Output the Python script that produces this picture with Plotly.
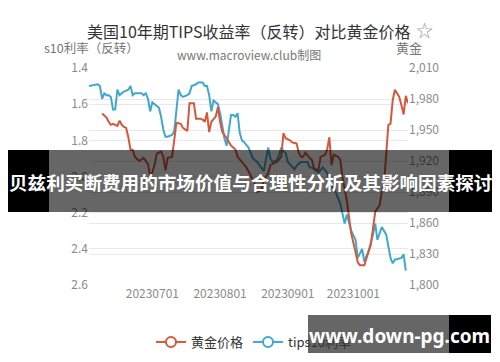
import plotly.graph_objects as go

# ---------------- data ----------------
tips_dates = [
    "2023-06-02", "2023-06-06", "2023-06-07", "2023-06-08", "2023-06-09", "2023-06-10",
    "2023-06-11", "2023-06-12", "2023-06-13", "2023-06-14", "2023-06-15", "2023-06-16",
    "2023-06-17", "2023-06-18", "2023-06-20", "2023-06-21", "2023-06-22", "2023-06-23",
    "2023-06-25", "2023-06-26", "2023-06-27", "2023-06-28", "2023-06-29", "2023-06-30",
    "2023-07-01", "2023-07-02", "2023-07-03", "2023-07-04", "2023-07-05", "2023-07-06",
    "2023-07-07", "2023-07-08", "2023-07-10", "2023-07-11", "2023-07-13", "2023-07-14",
    "2023-07-15", "2023-07-17", "2023-07-18", "2023-07-19", "2023-07-21", "2023-07-22",
    "2023-07-24", "2023-07-25", "2023-07-26", "2023-07-27", "2023-07-28", "2023-07-29",
    "2023-07-30", "2023-07-31", "2023-08-01", "2023-08-02", "2023-08-03", "2023-08-04",
    "2023-08-05", "2023-08-06", "2023-08-07", "2023-08-08", "2023-08-09", "2023-08-10",
    "2023-08-11", "2023-08-12", "2023-08-14", "2023-08-16", "2023-08-18", "2023-08-20",
    "2023-08-21", "2023-08-23", "2023-08-24", "2023-08-25", "2023-08-27", "2023-08-28",
    "2023-08-29", "2023-08-30", "2023-08-31", "2023-09-01", "2023-09-03", "2023-09-04",
    "2023-09-05", "2023-09-07", "2023-09-09", "2023-09-10", "2023-09-11", "2023-09-12",
    "2023-09-14", "2023-09-15", "2023-09-17", "2023-09-19", "2023-09-20", "2023-09-21",
    "2023-09-23", "2023-09-25", "2023-09-27", "2023-09-28", "2023-09-30", "2023-10-02",
    "2023-10-03", "2023-10-05", "2023-10-06", "2023-10-08", "2023-10-10", "2023-10-11",
    "2023-10-12", "2023-10-14", "2023-10-16", "2023-10-18", "2023-10-19", "2023-10-20",
    "2023-10-23", "2023-10-24", "2023-10-25",
]
tips_values = [
    1.50, 1.49, 1.50, 1.57, 1.54, 1.55,
    1.55, 1.56, 1.63, 1.63, 1.52, 1.55,
    1.54, 1.53, 1.52, 1.50, 1.55, 1.54,
    1.54, 1.54, 1.55, 1.54, 1.57, 1.64,
    1.59, 1.60, 1.61, 1.62, 1.67, 1.74,
    1.78, 1.78, 1.77, 1.75, 1.52, 1.55,
    1.56, 1.55, 1.54, 1.50, 1.49, 1.48,
    1.48, 1.50, 1.50, 1.55, 1.64, 1.58,
    1.59, 1.60, 1.65, 1.73, 1.79, 1.83,
    1.74, 1.66, 1.66, 1.67, 1.65, 1.76,
    1.80, 1.81, 1.84, 1.90, 1.92, 1.95,
    1.97, 1.84, 1.90, 1.92, 1.91, 1.88,
    1.84, 1.86, 1.87, 1.92, 1.95, 1.96,
    1.94, 1.92, 1.92, 1.92, 1.95, 1.95,
    1.97, 1.98, 1.95, 1.98, 2.02, 2.05,
    2.09, 2.15, 2.26, 2.21, 2.30, 2.35,
    2.45, 2.40, 2.47, 2.41, 2.32, 2.26,
    2.35, 2.28, 2.32, 2.45, 2.48, 2.46,
    2.45, 2.43, 2.52,
]

gold_dates = [
    "2023-06-08", "2023-06-10", "2023-06-11", "2023-06-12", "2023-06-13", "2023-06-15",
    "2023-06-16", "2023-06-17", "2023-06-18", "2023-06-19", "2023-06-20", "2023-06-21",
    "2023-06-22", "2023-06-23", "2023-06-25", "2023-06-27", "2023-06-29", "2023-06-30",
    "2023-07-01", "2023-07-02", "2023-07-03", "2023-07-05", "2023-07-06", "2023-07-07",
    "2023-07-08", "2023-07-10", "2023-07-11", "2023-07-12", "2023-07-14", "2023-07-15",
    "2023-07-17", "2023-07-18", "2023-07-20", "2023-07-21", "2023-07-23", "2023-07-24",
    "2023-07-25", "2023-07-26", "2023-07-27", "2023-07-28", "2023-07-30", "2023-07-31",
    "2023-08-01", "2023-08-02", "2023-08-04", "2023-08-06", "2023-08-08", "2023-08-09",
    "2023-08-11", "2023-08-13", "2023-08-15", "2023-08-16", "2023-08-17", "2023-08-18",
    "2023-08-20", "2023-08-21", "2023-08-23", "2023-08-24", "2023-08-26", "2023-08-27",
    "2023-08-29", "2023-08-30", "2023-08-31", "2023-09-02", "2023-09-03", "2023-09-05",
    "2023-09-06", "2023-09-07", "2023-09-08", "2023-09-09", "2023-09-11", "2023-09-12",
    "2023-09-13", "2023-09-15", "2023-09-16", "2023-09-18", "2023-09-19", "2023-09-20",
    "2023-09-21", "2023-09-22", "2023-09-24", "2023-09-25", "2023-09-26", "2023-09-28",
    "2023-09-29", "2023-09-30", "2023-10-02", "2023-10-03", "2023-10-04", "2023-10-06",
    "2023-10-07", "2023-10-09", "2023-10-10", "2023-10-11", "2023-10-13", "2023-10-14",
    "2023-10-15", "2023-10-16", "2023-10-17", "2023-10-18", "2023-10-19", "2023-10-20",
    "2023-10-22", "2023-10-23", "2023-10-24", "2023-10-25", "2023-10-26",
]
gold_values = [
    1966, 1962, 1958, 1955, 1956, 1954,
    1959, 1955, 1953, 1952, 1943, 1931,
    1931, 1924, 1920, 1923, 1917, 1905,
    1909, 1916, 1927, 1929, 1924, 1911,
    1923, 1924, 1940, 1957, 1956, 1952,
    1949, 1976, 1976, 1961, 1961, 1960,
    1958, 1967, 1948, 1958, 1963, 1972,
    1958, 1948, 1942, 1935, 1931, 1924,
    1919, 1914, 1906, 1902, 1897, 1890,
    1892, 1902, 1908, 1916, 1918, 1919,
    1924, 1947, 1942, 1940, 1938, 1937,
    1928, 1924, 1924, 1928, 1923, 1921,
    1913, 1911, 1924, 1926, 1931, 1943,
    1916, 1926, 1924, 1921, 1904, 1882,
    1866, 1850, 1832, 1822, 1819, 1819,
    1826, 1839, 1855, 1871, 1877, 1890,
    1897, 1923, 1955, 1956, 1979, 1989,
    1982, 1974, 1965, 1983, 1976,
]

x_tick_dates = ["2023-07-01", "2023-08-01", "2023-09-01", "2023-10-01"]
x_tick_labels = ["20230701", "20230801", "20230901", "20231001"]
left_ticks = [1.4, 1.6, 1.8, 2.0, 2.2, 2.4, 2.6]
right_ticks = [1800, 1830, 1860, 1890, 1920, 1950, 1980, 2010]

# ---------------- style ----------------
RED = "#d4583d"
BLUE = "#40a9cb"
FONT = "Noto Sans CJK SC, Noto Sans, sans-serif"
W, H = 500, 362
OFF = 8  # page body margin offset
# plot area in screen pixels
PX0, PX1, PY0, PY1 = 89, 408, 68, 285
PW, PH = PX1 - PX0, PY1 - PY0
L = PX0 - OFF
T = PY0 - OFF
R = W - L - PW
B = H - T - PH


def px(x):
    return (x - PX0) / PW


def py(y):
    return (PY1 - y) / PH


fig = go.Figure()
fig.add_trace(go.Scatter(x=tips_dates, y=tips_values, mode="lines", yaxis="y",
                         line=dict(color=BLUE, width=2), showlegend=False, cliponaxis=False))
fig.add_trace(go.Scatter(x=gold_dates, y=gold_values, mode="lines", yaxis="y2",
                         line=dict(color=RED, width=2), showlegend=False, cliponaxis=False))
# legend entries
fig.add_trace(go.Scatter(x=[None], y=[None], mode="lines+markers", name="黄金价格",
                         line=dict(color=RED, width=2),
                         marker=dict(symbol="circle", size=10, color="white",
                                     line=dict(color=RED, width=2))))
fig.add_trace(go.Scatter(x=[None], y=[None], mode="lines+markers", name="tips10利率",
                         line=dict(color=BLUE, width=2),
                         marker=dict(symbol="circle", size=10, color="white",
                                     line=dict(color=BLUE, width=2))))

grid = "#e8e8e8"
tickfont = dict(family=FONT, size=12, color="#8a8a8a")
fig.update_layout(
    width=W, height=H,
    margin=dict(l=L, r=R, t=T, b=B, autoexpand=False),
    paper_bgcolor="white", plot_bgcolor="white",
    font=dict(family=FONT),
    xaxis=dict(type="date", range=["2023-06-02", "2023-10-26"],
               tickvals=x_tick_dates, ticktext=x_tick_labels,
               showgrid=False, zeroline=False, showline=False,
               tickfont=tickfont, ticks=""),
    yaxis=dict(range=[2.6, 1.4], tickvals=left_ticks,
               ticktext=[f"{v:.1f}" for v in left_ticks],
               showgrid=True, gridcolor=grid, zeroline=False, showline=False,
               tickfont=tickfont, ticks=""),
    yaxis2=dict(range=[1800, 2010], tickvals=right_ticks,
                ticktext=[f"{v:,}" for v in right_ticks],
                overlaying="y", side="right",
                showgrid=True, gridcolor=grid, zeroline=False, showline=False,
                tickfont=tickfont, ticks=""),
    legend=dict(orientation="h", x=px(254), xanchor="center", y=py(342), yanchor="middle",
                font=dict(family=FONT, size=13, color="#333333"),
                itemwidth=30, bgcolor="rgba(0,0,0,0)"),
)


def label(text, x, y, size, color, xanchor="center", family=FONT):
    return dict(text=text, x=px(x), y=py(y), xref="paper", yref="paper",
                xanchor=xanchor, yanchor="middle", showarrow=False,
                font=dict(family=family, size=size, color=color))


ann = [
    label("美国10年期TIPS收益率（反转）对比黄金价格", 249, 31, 16, "#333333"),
    label("☆", 424, 29, 17, "#9a9a9a"),
    label("www.macroview.club制图", 249, 55, 12, "#777777"),
    label("s10利率（反转）", 141, 47, 12.5, "#777777", xanchor="right"),
    label("黄金", 409, 47, 13, "#777777"),
]

shapes = []
# banner band
shapes.append(dict(type="rect", xref="paper", yref="paper", x0=px(0), x1=px(49),
                   y0=py(212), y1=py(150), fillcolor="black", line=dict(width=0), layer="above"))
shapes.append(dict(type="rect", xref="paper", yref="paper", x0=px(449), x1=px(497),
                   y0=py(212), y1=py(150), fillcolor="black", line=dict(width=0), layer="above"))
shapes.append(dict(type="rect", xref="paper", yref="paper", x0=px(49), x1=px(449),
                   y0=py(212), y1=py(150), fillcolor="rgba(0,0,0,0.6)", line=dict(width=0),
                   layer="above"))
ann.append(label("<b>贝兹利买断费用的市场价值与合理性分析及其影响因素探讨</b>", 250, 181, 18.6, "white"))
# watermark box
shapes.append(dict(type="rect", xref="paper", yref="paper", x0=px(308), x1=px(449),
                   y0=py(353), y1=py(315), fillcolor="rgba(0,0,0,0.6)", line=dict(width=0),
                   layer="above"))
shapes.append(dict(type="rect", xref="paper", yref="paper", x0=px(449), x1=px(491),
                   y0=py(353), y1=py(315), fillcolor="black", line=dict(width=0), layer="above"))
ann.append(label("<b>www.down-pg.com</b>", 399, 336, 19, "white", family="Noto Sans, sans-serif"))

fig.update_layout(annotations=ann, shapes=shapes)
fig.write_html("out.html")
